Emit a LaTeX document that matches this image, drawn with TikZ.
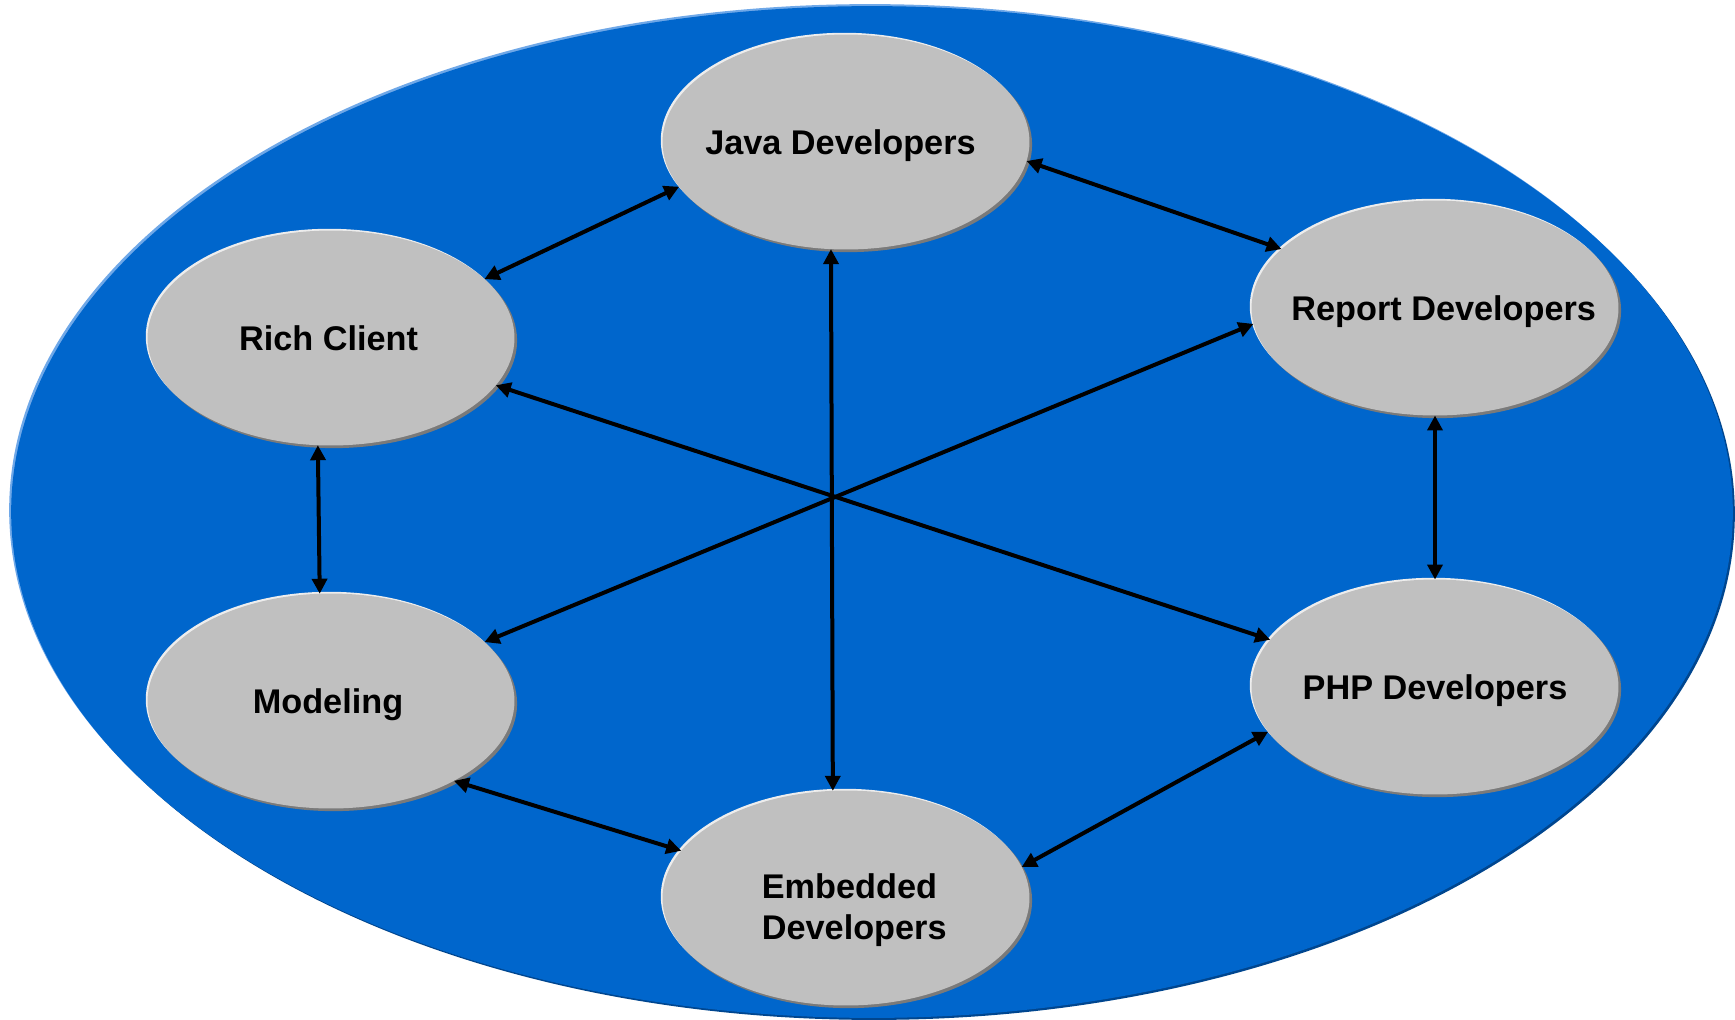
\documentclass[tikz,border=0pt]{standalone}
\usepackage{fontspec}
\setmainfont{Liberation Sans}
\usetikzlibrary{arrows.meta,shapes.geometric,shadows}
\definecolor{bgblue}{HTML}{0066CC}
\definecolor{bglight}{HTML}{6FA8E8}
\definecolor{bgdark}{HTML}{00468F}
\definecolor{nodegray}{HTML}{C0C0C0}
\definecolor{nodeshadow}{HTML}{7A7A7A}
\definecolor{nodelight}{HTML}{EDEDED}
\newcommand{\ovaltext}[3]{\makebox[0pt][c]{\hspace*{#1}\raisebox{#2}{#3}}}
\begin{document}
\begin{tikzpicture}[x=0.02cm,y=-0.02cm,
  oval/.style={ellipse, fill=nodegray, minimum width=7.34cm, minimum height=4.30cm,
     inner sep=0pt, outer sep=0pt, text height=0pt, text depth=0pt,
     general shadow={shadow xshift=-1pt, shadow yshift=1pt, fill=nodelight},
     general shadow={shadow xshift=1.5pt, shadow yshift=-1.5pt, fill=nodeshadow},
     font=\fontsize{19.5}{23.4}\selectfont\bfseries},
  link/.style={{Triangle[length=0.3cm,width=0.3cm]}-{Triangle[length=0.3cm,width=0.3cm]},
     line width=0.08cm, draw=black}
]
\useasboundingbox (0,0) rectangle (1735,1019);
\begin{scope}
\clip (0,0) rectangle (1735,1019);
\fill[bgdark] (874,514) ellipse [x radius=17.22cm, y radius=10.12cm];
\fill[bglight] (870,510) ellipse [x radius=17.22cm, y radius=10.12cm];
\fill[bgblue] (872,512) ellipse [x radius=17.22cm, y radius=10.12cm];
\end{scope}

\node[oval] (java)   at (846,142) {\ovaltext{-0.22cm}{-0.36em}{Java Developers}};
\node[oval] (rich)   at (331,338) {\ovaltext{-0.1cm}{-0.36em}{Rich Client}};
\node[oval] (report) at (1435,308) {\ovaltext{0.35cm}{-0.36em}{Report Developers}};
\node[oval] (model)  at (331,701) {\ovaltext{-0.12cm}{-0.36em}{Modeling}};
\node[oval] (php)    at (1435,687) {\ovaltext{0cm}{-0.36em}{PHP Developers}};
\node[oval] (embed)  at (846,898) {\ovaltext{0.33cm}{0pt}{\begin{tabular}[t]{@{}l@{}}Embedded\\Developers\end{tabular}}};

\draw[link] (java.195.6) -- (rich.21.6);
\draw[link] (java.354.4) -- (report.159.7);
\draw[link] (java.262.2) -- (embed.97.9);
\draw[link] (rich.263.1) -- (model.96.9);
\draw[link] (rich.344.5) -- (php.164.4);
\draw[link] (report.185.6) -- (model.21.6);
\draw[link] (report.270) -- (php.90);
\draw[link] (model.327.6) -- (embed.164.7);
\draw[link] (php.195.6) -- (embed.10.2);
\end{tikzpicture}
\end{document}
